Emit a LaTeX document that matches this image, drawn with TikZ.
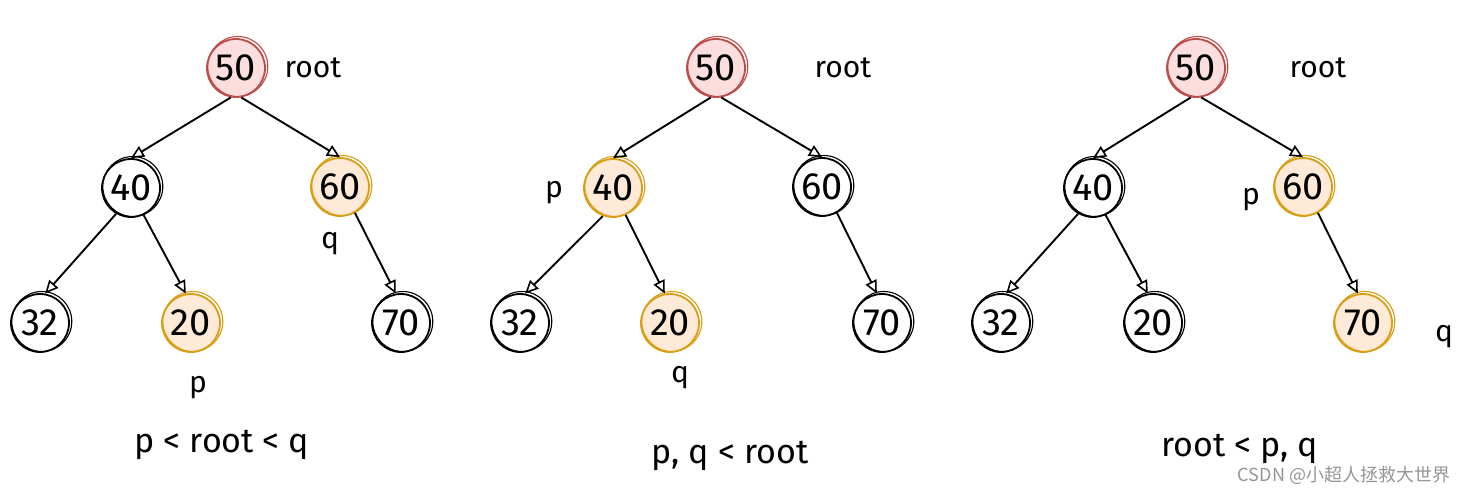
\documentclass[tikz,border=0pt]{standalone}
\usepackage{fontspec}
\setmainfont{Fira Sans}
\newfontfamily\cjk{Noto Sans CJK SC}
\usetikzlibrary{arrows.meta}
\definecolor{rstroke}{RGB}{188,76,72}
\definecolor{rfill}{RGB}{252,222,222}
\definecolor{ystroke}{RGB}{216,158,20}
\definecolor{yfill}{RGB}{254,234,214}
\definecolor{wm}{RGB}{150,150,150}
\tikzset{
  nd/.style={circle, draw=black, line width=1.8pt, minimum size=58pt, inner sep=0pt,
    font=\fontsize{38}{38}\selectfont},
  rednd/.style={nd, draw=rstroke, fill=rfill},
  yelnd/.style={nd, draw=ystroke, fill=yfill},
  lbl/.style={font=\fontsize{30}{30}\selectfont, inner sep=0pt},
  captxt/.style={font=\fontsize{34}{34}\selectfont, inner sep=0pt},
  arr/.style={-{Triangle[open, length=13pt, width=12pt, line width=1.6pt]}, line width=1.9pt}
}
\newcommand{\skc}[2]{\draw[#2, line width=1.1pt] ([shift={(1.8,-1.5)}]#1.center) circle[radius=30];}
\begin{document}
\begin{tikzpicture}[x=1pt, y=-1pt]
\useasboundingbox[fill=white] (0,0) rectangle (1473,492);

% ---------- Tree 1 ----------
\node[rednd] (a50) at (236,68) {50};
\node[nd]    (a40) at (131,188) {40};
\node[yelnd] (a60) at (340,187) {60};
\node[nd]    (a32) at (40,323) {32};
\node[yelnd] (a20) at (191,323) {20};
\node[nd]    (a70) at (401,323) {70};
\skc{a50}{rstroke}\skc{a40}{black}\skc{a60}{ystroke}\skc{a32}{black}\skc{a20}{ystroke}\skc{a70}{black}
\node[lbl] (aroot) at (313,68) {root};
\node[lbl] (aq) at (330,244) {q};
\node[lbl] (ap) at (198,388) {p};
\node[captxt] (acap) at (222,445) {p < root < q};
\draw[arr] (a50.-100) -- (a40.north);
\draw[arr] (a50.-80) -- (a60.north);
\draw[arr] (a40.-120) -- (a32.80);
\draw[arr] (a40.-65) -- (a20.100);
\draw[arr] (a60.-60) -- (a70.100);

% ---------- Tree 2 ----------
\node[rednd] (b50) at (716,68) {50};
\node[yelnd] (b40) at (613,188) {40};
\node[nd]    (b60) at (822,187) {60};
\node[nd]    (b32) at (520,323) {32};
\node[yelnd] (b20) at (670,323) {20};
\node[nd]    (b70) at (882,323) {70};
\skc{b50}{rstroke}\skc{b40}{ystroke}\skc{b60}{black}\skc{b32}{black}\skc{b20}{ystroke}\skc{b70}{black}
\node[lbl] (broot) at (843,68) {root};
\node[lbl] (bp) at (554,193) {p};
\node[lbl] (bq) at (680,378) {q};
\node[captxt] (bcap) at (730,456) {p, q < root};
\draw[arr] (b50.-100) -- (b40.north);
\draw[arr] (b50.-80) -- (b60.north);
\draw[arr] (b40.-110) -- (b32.80);
\draw[arr] (b40.-65) -- (b20.100);
\draw[arr] (b60.-60) -- (b70.100);

% ---------- Tree 3 ----------
\node[rednd] (c50) at (1196,68) {50};
\node[nd]    (c40) at (1093,188) {40};
\node[yelnd] (c60) at (1303,187) {60};
\node[nd]    (c32) at (1001,323) {32};
\node[nd]    (c20) at (1153,323) {20};
\node[yelnd] (c70) at (1363,323) {70};
\skc{c50}{rstroke}\skc{c40}{black}\skc{c60}{ystroke}\skc{c32}{black}\skc{c20}{black}\skc{c70}{ystroke}
\node[lbl] (croot) at (1318,68) {root};
\node[lbl] (cp) at (1251,200) {p};
\node[lbl] (cq) at (1444,337) {q};
\node[captxt] (ccap) at (1240,449) {root < p, q};
\draw[arr] (c50.-100) -- (c40.north);
\draw[arr] (c50.-80) -- (c60.north);
\draw[arr] (c40.-120) -- (c32.80);
\draw[arr] (c40.-65) -- (c20.100);
\draw[arr] (c60.-60) -- (c70.100);

\node[font=\cjk\fontsize{18}{18}\selectfont, text=wm, inner sep=0pt] (wmk) at (1344,475) {CSDN @小超人拯救大世界};
\end{tikzpicture}
\end{document}
